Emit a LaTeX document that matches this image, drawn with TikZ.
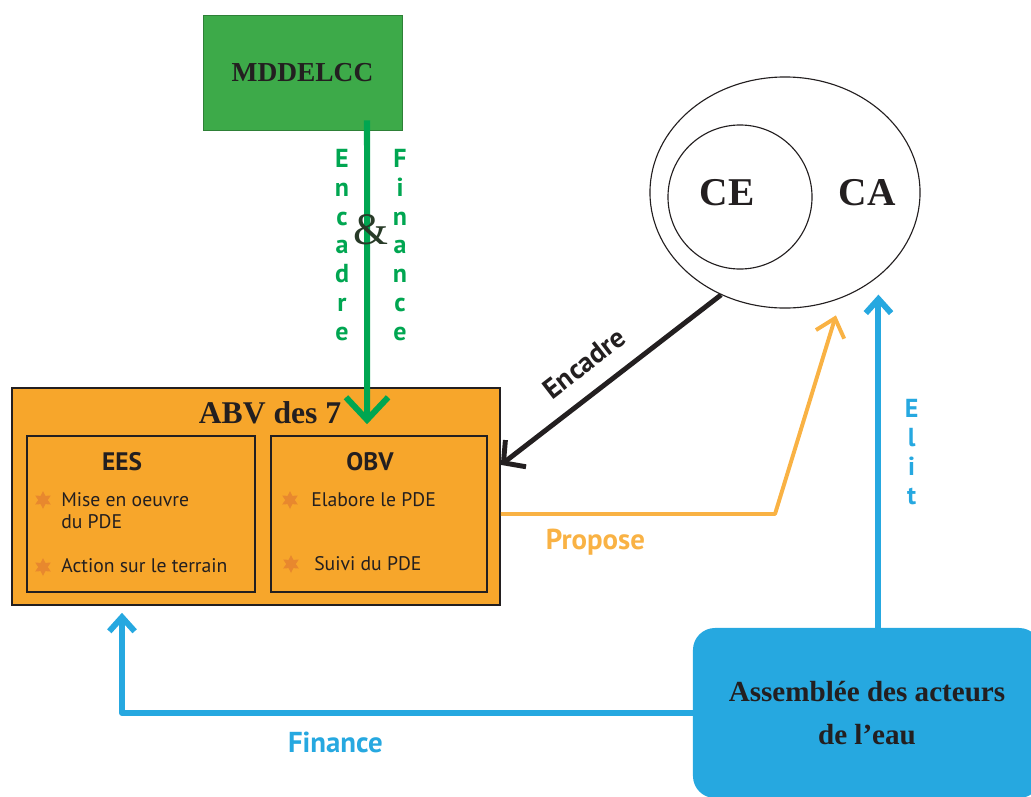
\documentclass[tikz,border=0pt]{standalone}
\usepackage{fontspec}
\setmainfont{Liberation Serif}
\setsansfont{PT Sans}
\usetikzlibrary{positioning,shapes.geometric,arrows.meta}
\tikzset{>=latex}
\definecolor{mgreen}{RGB}{61,170,73}
\definecolor{mgreenline}{RGB}{0,166,81}
\definecolor{abvorange}{RGB}{247,166,43}
\definecolor{starorange}{RGB}{232,136,46}
\definecolor{proposeorange}{RGB}{249,178,68}
\definecolor{eaublue}{RGB}{38,168,224}
\definecolor{darkline}{RGB}{35,31,32}
\tikzset{
  orgbox/.style={rectangle, draw=darkline, line width=1.1pt, fill=abvorange},
  boxtitle/.style={text=darkline, font=\bfseries\fontsize{22.5}{24}\selectfont},
  subtitle/.style={text=darkline, font=\sffamily\bfseries\fontsize{18}{20}\selectfont},
  item/.style={anchor=west, inner sep=0pt, align=left, text=darkline, font=\sffamily\fontsize{14}{15.6}\selectfont},
  puce/.style={star, star points=6, star point ratio=1.9, fill=starorange, minimum size=0.45cm, inner sep=0pt},
  vlabel/.style={align=center, inner sep=0pt, font=\sffamily\bfseries\fontsize{18.5}{20.5}\selectfont},
  flowlabel/.style={font=\sffamily\bfseries\fontsize{20.5}{22}\selectfont},
}
\begin{document}
\begin{tikzpicture}[x=0.025cm, y=-0.025cm]
  \clip (0,0) rectangle (1031,796);
  % ministere
  \node[rectangle, draw=mgreen!75!black, fill=mgreen, minimum width=4.975cm, minimum height=2.875cm, font=\bfseries\fontsize{19.5}{20}\selectfont, text=darkline] (mddelcc) at (302.5,72.5) {MDDELCC};
  % ABV and its two parts
  \node[orgbox, minimum width=12.2cm, minimum height=5.425cm] (abv) at (256,496.5) {};
  \node[boxtitle] (abvtitle) at (270,413) {ABV des 7};
  \node[orgbox, minimum width=5.7cm, minimum height=3.9cm] (ees) at (141,514) {};
  \node[orgbox, minimum width=5.4cm, minimum height=3.9cm] (obv) at (379,514) {};
  \node[subtitle] (eestitle) at (122,462) {EES};
  \node[subtitle] (obvtitle) at (370,462) {OBV};
  \node[puce] (star1) at (43,500) {};
  \node[item] (mise) at (61,511) {Mise en oeuvre\\du PDE};
  \node[puce] (star2) at (43,567) {};
  \node[item] (action) at (61,566) {Action sur le terrain};
  \node[puce] (star3) at (290,500) {};
  \node[item] (elabore) at (311,500) {Elabore le PDE};
  \node[puce] (star4) at (291,564) {};
  \node[item] (suivi) at (314,564) {Suivi du PDE};
  % CE / CA
  \node[ellipse, draw=darkline, line width=.8pt, minimum width=6.75cm, minimum height=5.775cm] (outer) at (785,192.5) {};
  \node[circle, draw=darkline, line width=.8pt, minimum size=3.6cm] (ce) at (740,197) {};
  \node[boxtitle, font=\bfseries\fontsize{28}{30}\selectfont] (celabel) at (727,193) {CE};
  \node[boxtitle, font=\bfseries\fontsize{28}{30}\selectfont] (calabel) at (867,193) {CA};
  % assemblee
  \node[rectangle, rounded corners=0.55cm, fill=eaublue, minimum width=8.7cm, minimum height=4.25cm, align=center, text=darkline, font=\bfseries\fontsize{20.7}{31}\selectfont] (assemblee) at (867,713) {Assemblée des acteurs\\de l’eau};
  % arrows
  \draw[mgreenline, line width=4.3pt, -{Straight Barb[length=16pt,width=30pt]}] ([xshift=1.6125cm,yshift=.25cm]mddelcc.south) -- node[pos=.41, xshift=-.625cm, vlabel, text=mgreenline] {E\\n\\c\\a\\d\\r\\e} node[pos=.41, xshift=.825cm, vlabel, text=mgreenline] {F\\i\\n\\a\\n\\c\\e} node[pos=.36, xshift=.1cm, inner sep=0pt, text=darkline!80!mgreen, font=\fontsize{32}{32}\selectfont] {\&} ([xshift=2.775cm,yshift=-.925cm]abv.north);
  \draw[darkline, line width=3.5pt, {Straight Barb[length=11pt,width=24pt]}-] ([yshift=.79cm]abv.east) -- node[pos=.46, sloped, above=.42cm, inner sep=0pt, text=darkline, font=\sffamily\bfseries\fontsize{20}{22}\selectfont] {Encadre} (outer.-122);
  \coordinate (bendo) at (775,514);
  \draw[proposeorange, line width=2.8pt, line join=round, shorten >=.45cm, -{Straight Barb[length=12pt,width=21pt]}] (abv.east |- obv.east) -- node[pos=.345, yshift=-.7cm, flowlabel, text=proposeorange] {Propose} (bendo) -- (outer.-62);
  \draw[eaublue, line width=4.2pt, shorten >=.45cm, -{Straight Barb[length=10pt,width=18pt]}] (assemblee.north -| outer.-42) -- node[midway, xshift=.83cm, vlabel, text=eaublue] {E\\l\\i\\t} (outer.-42);
  \draw[eaublue, line width=4.2pt, line join=round, -{Straight Barb[length=10pt,width=18pt]}] (assemblee.west) -| node[pos=.313, yshift=-.73cm, flowlabel, text=eaublue] {Finance} ([xshift=-3.35cm,yshift=-.175cm]abv.south);
\end{tikzpicture}
\end{document}
